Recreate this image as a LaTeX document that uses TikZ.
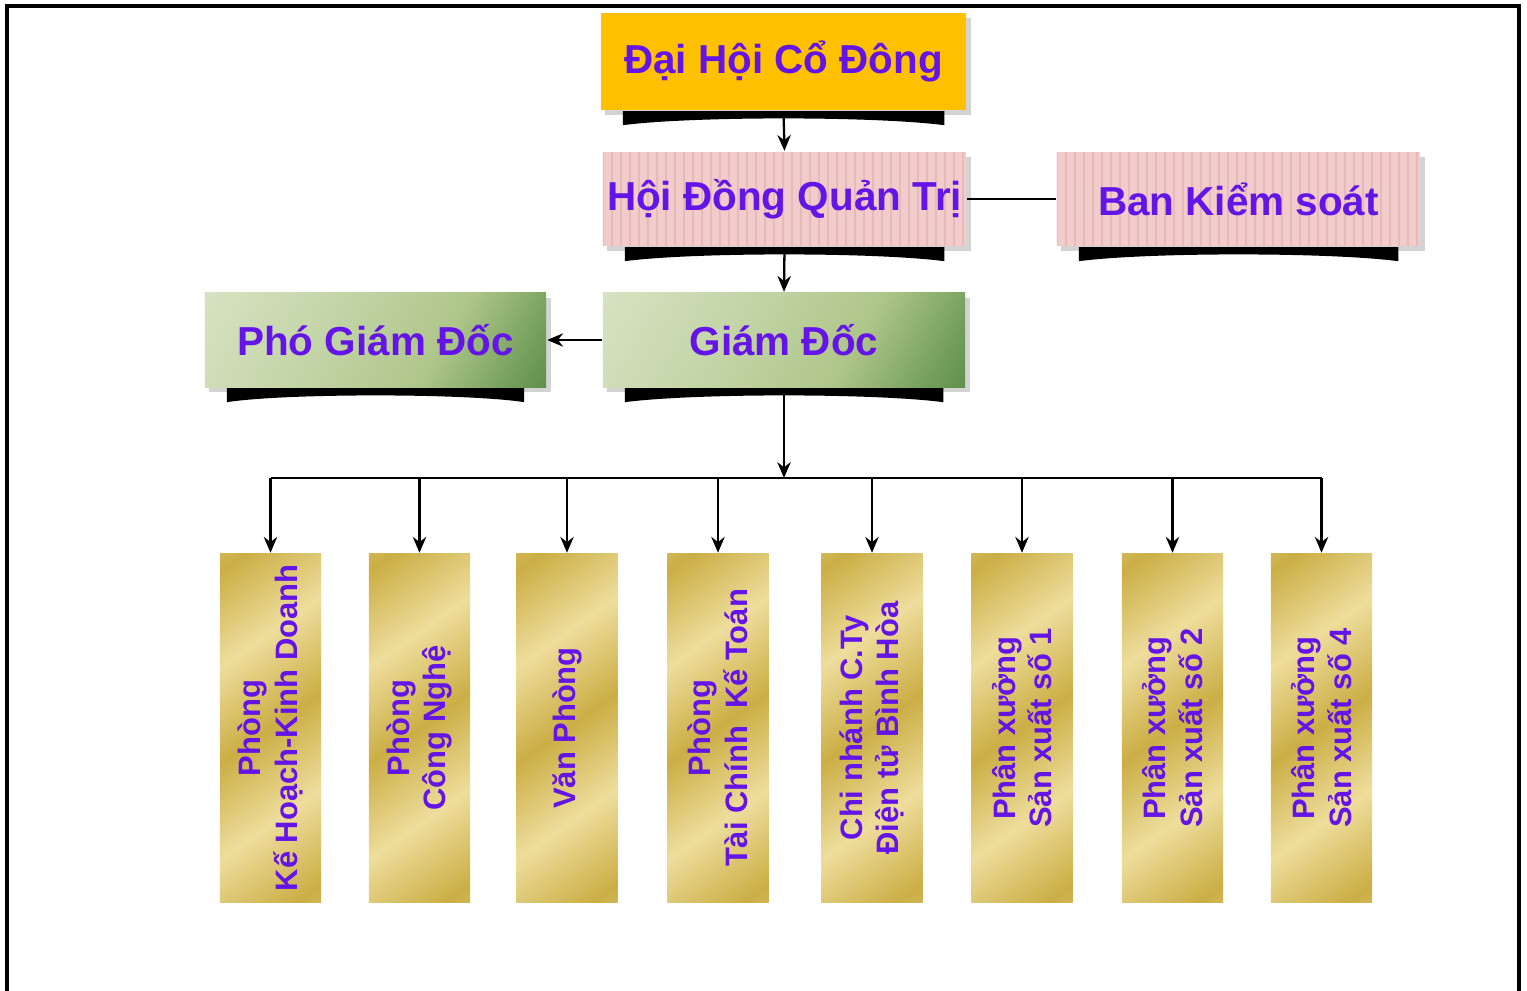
\documentclass[tikz,border=0pt]{standalone}
\usepackage{fontspec}
\setmainfont{Liberation Sans}
\usetikzlibrary{arrows.meta}
\usetikzlibrary{positioning,calc,shadows}

\definecolor{chu}{HTML}{6414E6}
\definecolor{cam}{HTML}{FFC000}
\definecolor{hong}{HTML}{F2CBCB}
\definecolor{hongvach}{HTML}{E6BABA}
\definecolor{vang1}{HTML}{CBAE45}
\definecolor{vang2}{HTML}{EEDD9C}
\definecolor{xanh1}{HTML}{E2EBD3}
\definecolor{xanh2}{HTML}{AFC68A}
\definecolor{xanh3}{HTML}{2A6E1F}

\pgfdeclarehorizontalshading{vangkim}{100bp}{color(0bp)=(vang2); color(18bp)=(vang1); color(34bp)=(vang2); color(50bp)=(vang1); color(66bp)=(vang2); color(82bp)=(vang1); color(100bp)=(vang2)}
\pgfdeclarehorizontalshading{xanhla}{100bp}{color(0bp)=(xanh1); color(40bp)=(xanh2!60!xanh1); color(62bp)=(xanh2); color(78bp)=(xanh2!55!xanh3); color(100bp)=(xanh3)}

% thanh den cong duoi moi hop
\newcommand{\thanhden}[1]{%
  \fill ($(#1.south west)+(23,0)$) -- ($(#1.south east)+(-23,0)$) -- ++(0,14)
    .. controls ($(#1.south)+(90,5)$) and ($(#1.south)+(-90,5)$) .. ($(#1.south west)+(23,14)$) -- cycle;}

\begin{document}
\begin{tikzpicture}[x=0.01cm,y=-0.01cm,line width=0.65pt,
    >={Stealth[length=4.5pt,width=3.8pt]},
    hop/.style={minimum height=0.94cm,inner sep=0pt,text=chu,
      font=\bfseries\fontsize{11.5}{13}\selectfont,
      drop shadow={shadow xshift=1.3pt,shadow yshift=-1.3pt,opacity=.35}},
    soc/.style={hop,fill=hong,path picture={
      \foreach \k in {0,...,41}
        \draw[hongvach,line width=0.35pt] ([xshift=\k*0.09cm]path picture bounding box.south west)
          -- ([xshift=\k*0.09cm]path picture bounding box.north west);}},
    la/.style={hop,shading=xanhla,shading angle=-30},
    phong/.style={rotate=90,minimum width=3.48cm,minimum height=1.01cm,inner sep=0pt,
      shading=vangkim,shading angle=-55,align=center,text=chu,
      font=\bfseries\fontsize{8.8}{10.4}\selectfont}]

    \useasboundingbox (0,0) rectangle (1527,991);
    \draw[line width=0.9pt] (7,991) -- (7,6) -- (1519,6) -- (1519,991);

    \node[hop,fill=cam,minimum width=3.65cm,minimum height=0.97cm] (DHCD) at (783.5,61.5) {Đại Hội Cổ Đông};
    \node[soc,minimum width=3.63cm] (HDQT) at (784.5,199) {Hội Đồng Quản Trị};
    \node[soc,minimum width=3.63cm] (BKS) at (1238.5,199) {Ban Kiểm soát};
    \node[la,minimum width=3.62cm] (GD) at (784,340) {Giám Đốc};
    \node[la,minimum width=3.41cm] (PGD) at (375.5,340) {Phó Giám Đốc};

    \foreach \n in {DHCD,HDQT,BKS,GD,PGD} {\thanhden{\n}}

    \foreach \ten/\x/\chu in {P1/270.5/{Phòng\\Kế Hoạch-Kinh Doanh},
        P2/419.5/{Phòng\\Công Nghệ},
        P3/567/{Văn Phòng},
        P4/718/{Phòng\\Tài Chính~ Kế Toán},
        P5/872/{Chi nhánh C.Ty\\Điện tử Bình Hòa},
        P6/1022/{Phân xưởng\\Sản xuất số 1},
        P7/1172.5/{Phân xưởng\\Sản xuất số 2},
        P8/1321.5/{Phân xưởng\\Sản xuất số 4}}
      \node[phong] (\ten) at (\x,728) {\chu};

    \coordinate (bus) at (784,478);
    \draw[->] (DHCD.south) -- (HDQT.north);
    \draw (HDQT.east) -- (BKS.west);
    \draw[->] (HDQT.south) -- (GD.north);
    \draw[->] (GD.west) -- (PGD.east);
    \draw[->] (GD.south) -- (bus);
    \draw (P1.east |- bus) -- (P8.east |- bus);
    \foreach \i in {1,...,8}
      \draw[->] (P\i.east |- bus) -- (P\i.east);
\end{tikzpicture}
\end{document}
